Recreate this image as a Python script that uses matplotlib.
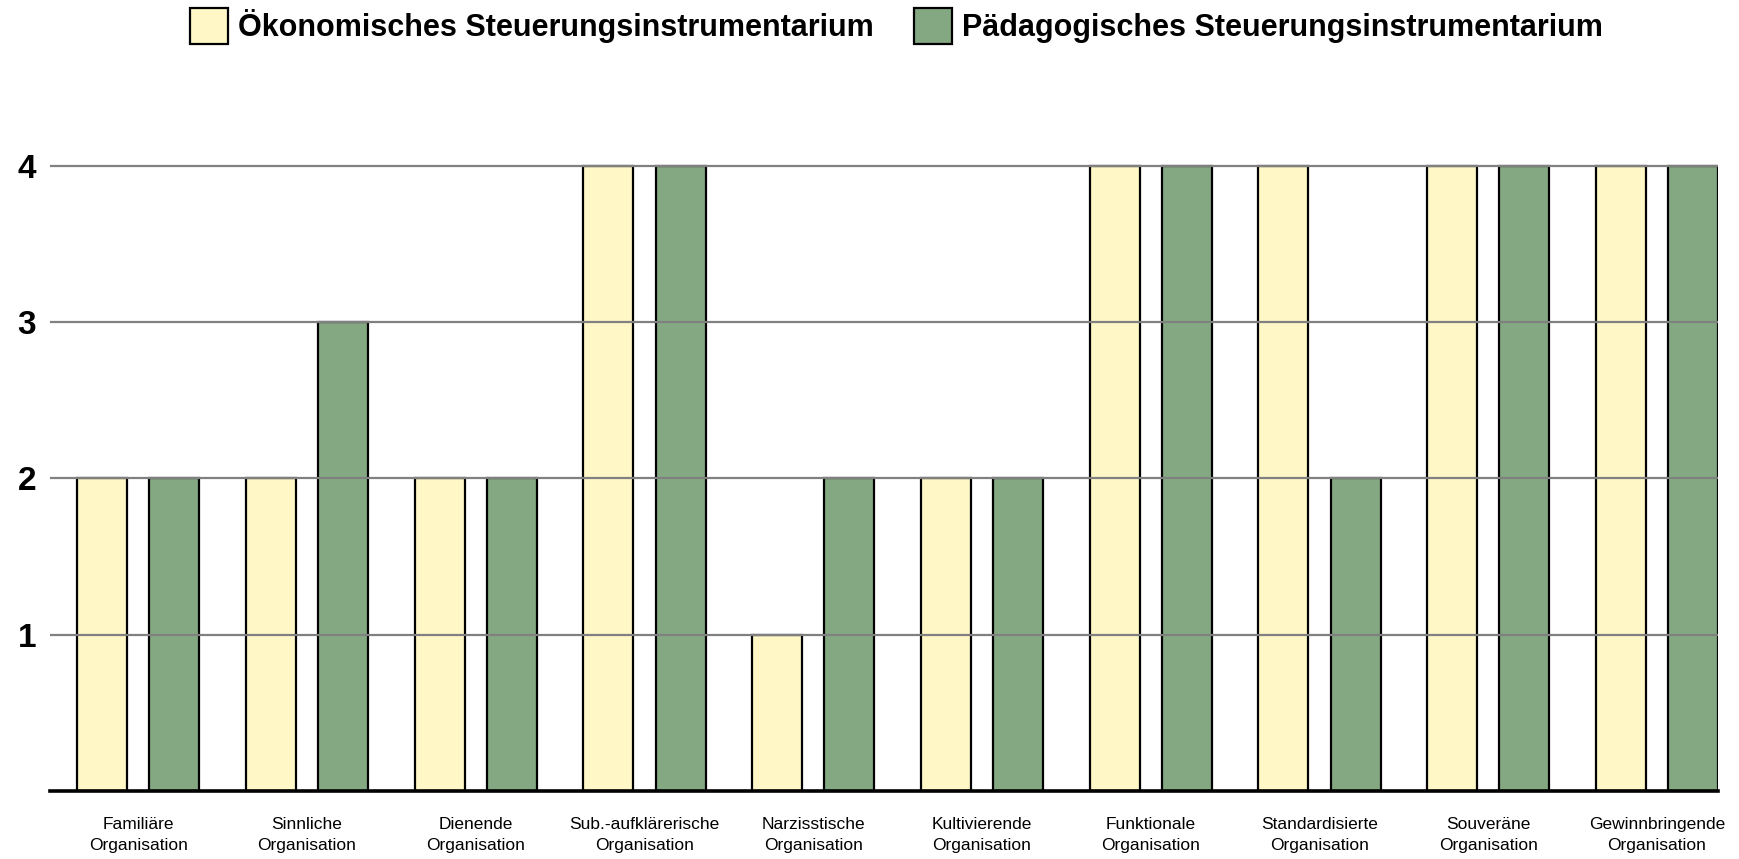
import matplotlib
matplotlib.use("Agg")
import matplotlib.pyplot as plt
import numpy as np

categories = ["Familiäre\nOrganisation", "Sinnliche\nOrganisation", "Dienende\nOrganisation",
              "Sub.-aufklärerische\nOrganisation", "Narzisstische\nOrganisation",
              "Kultivierende\nOrganisation", "Funktionale\nOrganisation",
              "Standardisierte\nOrganisation", "Souveräne\nOrganisation",
              "Gewinnbringende\nOrganisation"]
oekonomisch = [2, 2, 2, 4, 1, 2, 4, 4, 4, 4]
paedagogisch = [2, 3, 2, 4, 2, 2, 4, 2, 4, 4]
series_names = ["Ökonomisches Steuerungsinstrumentarium", "Pädagogisches Steuerungsinstrumentarium"]
y_ticks = [1, 2, 3, 4]

plt.rcParams['font.family'] = ['Liberation Sans', 'DejaVu Sans']

fig = plt.figure(figsize=(17.39, 8.59), dpi=100)
ax = fig.add_axes([50/1739, 1 - 791/859, (1718 - 50)/1739, (791 - 130)/859])

x = np.arange(len(categories))
w = 0.296
off = 0.214
yellow = '#FFF8C6'
green = '#84A982'
ax.bar(x - off, oekonomisch, w, color=yellow, edgecolor='black', linewidth=1.6, zorder=2,
       label=series_names[0])
ax.bar(x + off, paedagogisch, w, color=green, edgecolor='black', linewidth=1.6, zorder=2,
       label=series_names[1])

for t in y_ticks:
    ax.axhline(t, color='#808080', linewidth=1.6, zorder=3)
ax.axhline(0, color='black', linewidth=2.6, zorder=4, clip_on=False)

ax.set_xlim(-0.523, 9.362)
ax.set_ylim(0, 4.23)
ax.set_yticks(y_ticks)
ax.set_yticklabels([str(t) for t in y_ticks], fontsize=24, fontweight='bold')
ax.set_xticks(x)
ax.set_xticklabels(categories, fontsize=12.5, linespacing=1.45)
ax.tick_params(axis='both', length=0)
ax.tick_params(axis='y', pad=10)
ax.tick_params(axis='x', pad=19)
for s in ax.spines.values():
    s.set_visible(False)

leg = fig.legend(loc='upper left', bbox_to_anchor=(190/1739, 1 - 8/859), ncol=2,
                 frameon=False, prop={'size': 22, 'weight': 'bold'},
                 handlelength=1.25, handleheight=1.42, handletextpad=0.33,
                 columnspacing=1.3, borderaxespad=0, borderpad=0)
for h in leg.legend_handles:
    h.set_linewidth(1.6)

fig.savefig('out.png', dpi=100)
